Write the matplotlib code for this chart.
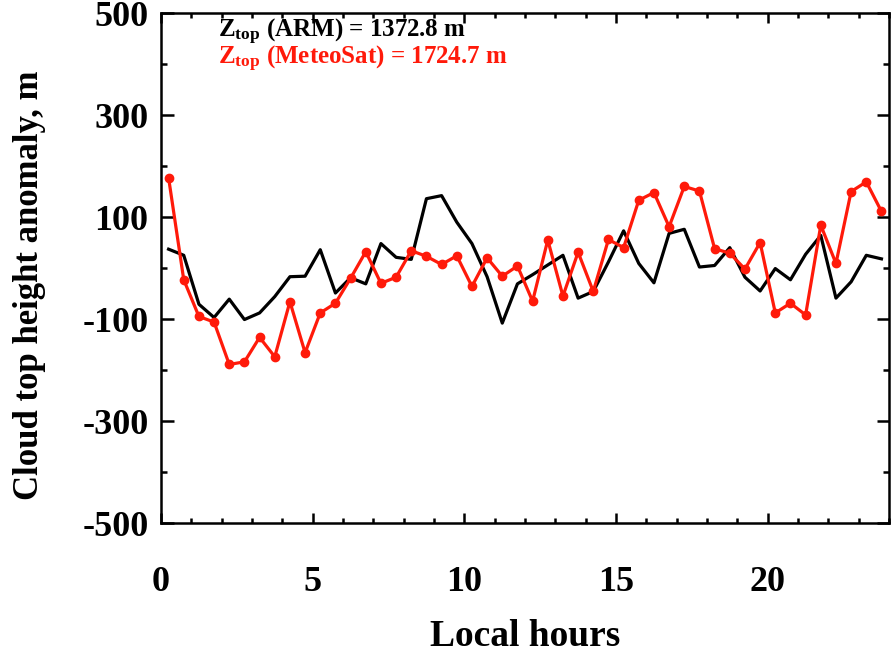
import numpy as np
import matplotlib.pyplot as plt
from matplotlib.ticker import MultipleLocator, FixedLocator

plt.rcParams['font.family'] = 'Liberation Serif'
plt.rcParams['font.weight'] = 'bold'
plt.rcParams['mathtext.fontset'] = 'custom'
plt.rcParams['mathtext.bf'] = 'Liberation Serif:bold'
plt.rcParams['mathtext.rm'] = 'Liberation Serif:bold'
plt.rcParams['mathtext.default'] = 'bf'
plt.rcParams['axes.unicode_minus'] = False

# half-hourly local time
hours = np.arange(0.25, 24, 0.5)

# cloud top height anomaly (m)
arm = [37, 25, -71, -97, -61, -101, -88, -56, -17, -16, 36, -49,
       -19, -31, 48, 21, 17, 136, 142, 90, 48, -17, -108, -31,
       -13, 6, 25, -59, -46, 12, 73, 9, -29, 68, 76, 2,
       5, 40, -18, -45, -1, -23, 27, 64, -59, -27, 25, 18]
meteosat = [177, -23, -95, -106, -189, -184, -136, -174, -66, -166, -88, -69,
            -20, 32, -30, -18, 34, 23, 7, 24, -36, 20, -16, 4,
            -65, 55, -55, 31, -46, 56, 40, 133, 148, 81, 160, 151,
            38, 29, -2, 50, -88, -69, -92, 84, 9, 150, 169, 111]

ytick_vals = [-500, -300, -100, 100, 300, 500]

fig = plt.figure(figsize=(8.91, 6.54), dpi=100)
ax = fig.add_axes([0.1807, 0.2003, 0.8171, 0.7797])

ax.plot(hours, arm, color='black', linewidth=2.3)
ax.plot(hours, meteosat, color='#ff1a0a', linewidth=2.3, marker='o', markersize=6)

ax.set_xlim(0, 24)
ax.set_ylim(-500, 500)
ax.xaxis.set_major_locator(FixedLocator([0, 5, 10, 15, 20]))
ax.xaxis.set_minor_locator(MultipleLocator(1))
ax.yaxis.set_major_locator(FixedLocator(ytick_vals))
ax.yaxis.set_minor_locator(MultipleLocator(100))
ax.set_yticklabels([str(v) for v in ytick_vals])

ax.tick_params(axis='both', which='both', direction='in', top=True, right=True,
               labelsize=26, width=1.8, colors='black')
ax.tick_params(axis='x', which='major', length=7, pad=31)
ax.tick_params(axis='x', which='minor', length=3.6)
ax.tick_params(axis='y', which='major', length=9, pad=9)
ax.tick_params(axis='y', which='minor', length=4.5)
for s in ax.spines.values():
    s.set_linewidth(1.8)

ax.set_xlabel('Local hours', fontsize=27, fontweight='bold', labelpad=14)
ax.set_ylabel('Cloud top height anomaly, m', fontsize=25, fontweight='bold')
ax.yaxis.set_label_coords(-0.158, 0.467)

ax.text(0.078, 0.953, r'$Z_{top}$ (ARM) = 1372.8 m', transform=ax.transAxes,
        fontsize=18, color='black', ha='left', va='baseline')
ax.text(0.078, 0.899, r'$Z_{top}$ (MeteoSat) = 1724.7 m', transform=ax.transAxes,
        fontsize=18, color='#ff1a0a', ha='left', va='baseline')

plt.savefig('out.png', dpi=100)
